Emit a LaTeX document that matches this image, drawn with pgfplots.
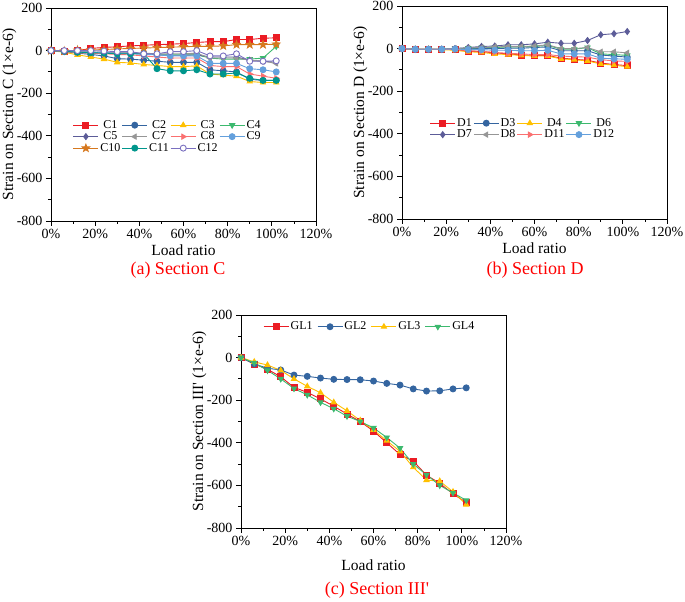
\documentclass[border=0pt]{standalone}
\usepackage{pgfplots}
\pgfplotsset{compat=1.18}
\usepackage{fontspec}
\setmainfont{Liberation Serif}[Ligatures=TeXOff]
\usetikzlibrary{plotmarks}
\definecolor{cred}{RGB}{235,28,36}
\definecolor{cblue}{RGB}{52,101,160}
\definecolor{cyel}{RGB}{255,192,0}
\definecolor{cgreen}{RGB}{60,185,110}
\definecolor{cpurp}{RGB}{92,92,152}
\definecolor{cgray}{RGB}{150,150,150}
\definecolor{csalm}{RGB}{250,112,112}
\definecolor{clblue}{RGB}{100,160,220}
\definecolor{corange}{RGB}{214,120,30}
\definecolor{cteal}{RGB}{0,150,140}
\definecolor{cvio}{RGB}{122,112,192}
\pgfdeclareplotmark{fstar}{%
 \pgfpathmoveto{\pgfpointpolar{90}{1.3\pgfplotmarksize}}%
 \pgfpathlineto{\pgfpointpolar{126}{0.55\pgfplotmarksize}}%
 \pgfpathlineto{\pgfpointpolar{162}{1.3\pgfplotmarksize}}%
 \pgfpathlineto{\pgfpointpolar{198}{0.55\pgfplotmarksize}}%
 \pgfpathlineto{\pgfpointpolar{234}{1.3\pgfplotmarksize}}%
 \pgfpathlineto{\pgfpointpolar{270}{0.55\pgfplotmarksize}}%
 \pgfpathlineto{\pgfpointpolar{306}{1.3\pgfplotmarksize}}%
 \pgfpathlineto{\pgfpointpolar{342}{0.55\pgfplotmarksize}}%
 \pgfpathlineto{\pgfpointpolar{18}{1.3\pgfplotmarksize}}%
 \pgfpathlineto{\pgfpointpolar{54}{0.55\pgfplotmarksize}}%
 \pgfpathclose\pgfusepathqfillstroke}
\pgfplotsset{
 strain/.style={
  scale only axis, width=265pt, height=213pt,
  xmin=0, xmax=120, ymin=-800, ymax=200,
  xtick={0,20,40,60,80,100,120},
  xticklabels={0\%,20\%,40\%,60\%,80\%,100\%,120\%},
  ytick={-800,-600,-400,-200,0,200},
  yticklabels={-800,-600,-400,-200,0,200},
  minor x tick num=1, minor y tick num=1,
  tick align=outside, xtick pos=bottom, ytick pos=left,
  major tick length=5pt, minor tick length=3pt,
  axis line style={line width=0.8pt}, tick style={line width=0.8pt, black},
  /pgf/number format/assume math mode=true,
  tick label style={font=\fontsize{14}{16}\selectfont},
  label style={font=\fontsize{15.5}{18}\selectfont},
  xlabel={Load ratio},
  xlabel style={at={(axis description cs:0.5,-0.136)}, anchor=center},
  ylabel style={at={(axis description cs:-0.157,0.5)}, anchor=center},
  legend style={draw=none, fill=none, font=\fontsize{12}{14}\selectfont, anchor=north west,
   /tikz/every even column/.append style={column sep=0pt}, inner sep=0pt, row sep=-1pt,
   nodes={inner sep=1.5pt}},
  legend image code/.code={\draw[mark repeat=2,mark phase=2,#1] plot coordinates {(0pt,0pt) (12.5pt,0pt) (25pt,0pt)};},
  every axis plot/.append style={line width=0.9pt, mark size=3pt},
 }
}
\begin{document}
\begin{tikzpicture}
\useasboundingbox (0,0) rectangle (685pt,602pt);
% (a)
\begin{axis}[strain, at={(51pt,381pt)}, anchor=south west,
 ylabel={Strain on Section C (1×e-6)},
 legend columns=4,
 legend style={at={(axis description cs:0.082,0.48)}}]
\addplot[color=cred, mark=square*] coordinates {(0,0)(6,-2)(12,0)(18,10)(24,15)(30,18)(36,22)(42,25)(48,28)(54,30)(60,33)(66,38)(72,42)(78,42)(84,52)(90,52)(96,58)(102,60)};
\addplot[color=cblue, mark=*] coordinates {(0,0)(6,-5)(12,-12)(18,-18)(24,-25)(30,-38)(36,-40)(42,-45)(48,-50)(54,-55)(60,-55)(66,-55)(72,-90)(78,-95)(84,-100)(90,-135)(96,-140)(102,-140)};
\addplot[color=cyel, mark=triangle*] coordinates {(0,0)(6,-8)(12,-20)(18,-30)(24,-40)(30,-55)(36,-58)(42,-65)(48,-70)(54,-75)(60,-75)(66,-72)(72,-110)(78,-115)(84,-120)(90,-145)(96,-150)(102,-150)};
\addplot[color=cgreen, mark=triangle*, mark options={rotate=180}] coordinates {(0,0)(6,-3)(12,-5)(18,-8)(24,-10)(30,-12)(36,-12)(42,-15)(48,-20)(54,-20)(60,-20)(66,-20)(72,-35)(78,-40)(84,-40)(90,-40)(96,-35)(102,20)};
\addplot[color=cpurp, mark=diamond*] coordinates {(0,0)(6,-3)(12,-5)(18,-8)(24,-10)(30,-12)(36,-12)(42,-15)(48,-20)(54,-22)(60,-22)(66,-20)(72,-30)(78,-30)(84,-30)(90,-45)(96,-50)(102,-55)};
\addplot[color=cgray, mark=triangle*, mark options={rotate=90}] coordinates {(0,0)(6,-2)(12,-4)(18,-6)(24,-8)(30,-10)(36,-10)(42,-12)(48,-15)(54,-15)(60,-15)(66,-12)(72,-35)(78,-35)(84,-35)(90,-45)(96,-50)(102,-60)};
\addplot[color=csalm, mark=triangle*, mark options={rotate=-90}] coordinates {(0,0)(6,-5)(12,-10)(18,-12)(24,-15)(30,-18)(36,-20)(42,-25)(48,-30)(54,-35)(60,-35)(66,-35)(72,-70)(78,-75)(84,-75)(90,-110)(96,-120)(102,-130)};
\addplot[color=clblue, mark=*] coordinates {(0,0)(6,-3)(12,-6)(18,-8)(24,-10)(30,-12)(36,-15)(42,-18)(48,-20)(54,-25)(60,-25)(66,-25)(72,-60)(78,-60)(84,-60)(90,-85)(96,-90)(102,-100)};
\addplot[color=corange, mark=fstar] coordinates {(0,0)(6,-2)(12,2)(18,3)(24,5)(30,8)(36,10)(42,12)(48,14)(54,16)(60,18)(66,20)(72,20)(78,22)(84,28)(90,28)(96,28)(102,30)};
\addplot[color=cteal, mark=*] coordinates {(0,0)(6,-3)(12,-8)(18,-10)(24,-12)(30,-15)(36,-15)(42,-15)(48,-85)(54,-95)(60,-95)(66,-90)(72,-110)(78,-110)(84,-105)(90,-130)(96,-140)(102,-140)};
\addplot[color=cvio, mark=*, mark options={fill=white}] coordinates {(0,0)(6,0)(12,0)(18,0)(24,-2)(30,-5)(36,-5)(42,-15)(48,-15)(54,-5)(60,-5)(66,0)(72,-25)(78,-25)(84,-15)(90,-50)(96,-50)(102,-48)};
\legend{C1,C2,C3,C4,C5,C7,C8,C9,C10,C11,C12}
\end{axis}
% (b)
\begin{axis}[strain, at={(402pt,383pt)}, anchor=south west,
 ylabel={Strain on Section D (1×e-6)},
 legend columns=4,
 legend style={at={(axis description cs:0.104,0.48)}}]
\addplot[color=cred, mark=square*] coordinates {(0,0)(6,-3)(12,-3)(18,-3)(24,-5)(30,-12)(36,-15)(42,-20)(48,-25)(54,-30)(60,-32)(66,-32)(72,-45)(78,-50)(84,-55)(90,-68)(96,-75)(102,-80)};
\addplot[color=cblue, mark=*] coordinates {(0,0)(6,-3)(12,-3)(18,-3)(24,-2)(30,0)(36,0)(42,0)(48,2)(54,2)(60,5)(66,8)(72,-10)(78,-10)(84,-10)(90,-30)(96,-35)(102,-40)};
\addplot[color=cyel, mark=triangle*] coordinates {(0,0)(6,-3)(12,-3)(18,-5)(24,-8)(30,-15)(36,-18)(42,-25)(48,-28)(54,-32)(60,-35)(66,-35)(72,-48)(78,-52)(84,-58)(90,-72)(96,-78)(102,-85)};
\addplot[color=cgreen, mark=triangle*, mark options={rotate=180}] coordinates {(0,0)(6,-3)(12,-3)(18,-3)(24,0)(30,2)(36,5)(42,5)(48,8)(54,8)(60,10)(66,15)(72,-3)(78,-3)(84,5)(90,-25)(96,-28)(102,-32)};
\addplot[color=cpurp, mark=diamond*] coordinates {(0,0)(6,-3)(12,-3)(18,-3)(24,0)(30,5)(36,10)(42,12)(48,18)(54,18)(60,22)(66,30)(72,25)(78,25)(84,38)(90,65)(96,70)(102,80)};
\addplot[color=cgray, mark=triangle*, mark options={rotate=90}] coordinates {(0,0)(6,-3)(12,-3)(18,-3)(24,0)(30,3)(36,5)(42,8)(48,10)(54,10)(60,12)(66,18)(72,0)(78,0)(84,5)(90,-15)(96,-15)(102,-20)};
\addplot[color=csalm, mark=triangle*, mark options={rotate=-90}] coordinates {(0,0)(6,-3)(12,-3)(18,-3)(24,-4)(30,-10)(36,-12)(42,-18)(48,-22)(54,-25)(60,-28)(66,-28)(72,-35)(78,-38)(84,-40)(90,-52)(96,-58)(102,-60)};
\addplot[color=clblue, mark=*] coordinates {(0,0)(6,-3)(12,-3)(18,-3)(24,-2)(30,-5)(36,-5)(42,-8)(48,-8)(54,-10)(60,-10)(66,-8)(72,-25)(78,-25)(84,-25)(90,-45)(96,-48)(102,-50)};
\legend{D1,D3,D4,D6,D7,D8,D11,D12}
\end{axis}
% (c)
\begin{axis}[strain, at={(241pt,74pt)}, anchor=south west,
 ylabel={Strain on Section III' (1×e-6)},
 xlabel style={at={(axis description cs:0.5,-0.174)}},
 legend columns=4,
 legend style={at={(axis description cs:0.083,0.975)},
  /tikz/every odd column/.append style={column sep=0pt},
  /tikz/every even column/.append style={column sep=3pt}}]
\addplot[color=cred, mark=square*] coordinates {(0,0)(6,-30)(12,-55)(18,-90)(24,-140)(30,-163)(36,-194)(42,-228)(48,-265)(54,-300)(60,-345)(66,-400)(72,-455)(78,-486)(84,-552)(90,-590)(96,-640)(102,-680)};
\addplot[color=cblue, mark=*] coordinates {(0,0)(6,-30)(12,-50)(18,-58)(24,-82)(30,-88)(36,-96)(42,-102)(48,-103)(54,-104)(60,-110)(66,-121)(72,-129)(78,-147)(84,-157)(90,-156)(96,-147)(102,-142)};
\addplot[color=cyel, mark=triangle*] coordinates {(0,0)(6,-20)(12,-35)(18,-60)(24,-100)(30,-135)(36,-165)(42,-210)(48,-250)(54,-295)(60,-340)(66,-390)(72,-440)(78,-515)(84,-575)(90,-580)(96,-630)(102,-690)};
\addplot[color=cgreen, mark=triangle*, mark options={rotate=180}] coordinates {(0,0)(6,-25)(12,-60)(18,-100)(24,-145)(30,-175)(36,-210)(42,-240)(48,-275)(54,-300)(60,-330)(66,-375)(72,-425)(78,-500)(84,-550)(90,-600)(96,-635)(102,-670)};
\legend{GL1,GL2,GL3,GL4}
\end{axis}
\node[text=red, font=\fontsize{18}{20}\selectfont] at (178pt,602pt-270pt) {(a) Section C};
\node[text=red, font=\fontsize{18}{20}\selectfont] at (535pt,602pt-270pt) {(b) Section D};
\node[text=red, font=\fontsize{18}{20}\selectfont] at (377pt,602pt-590pt) {(c) Section III'};
\end{tikzpicture}
\end{document}
